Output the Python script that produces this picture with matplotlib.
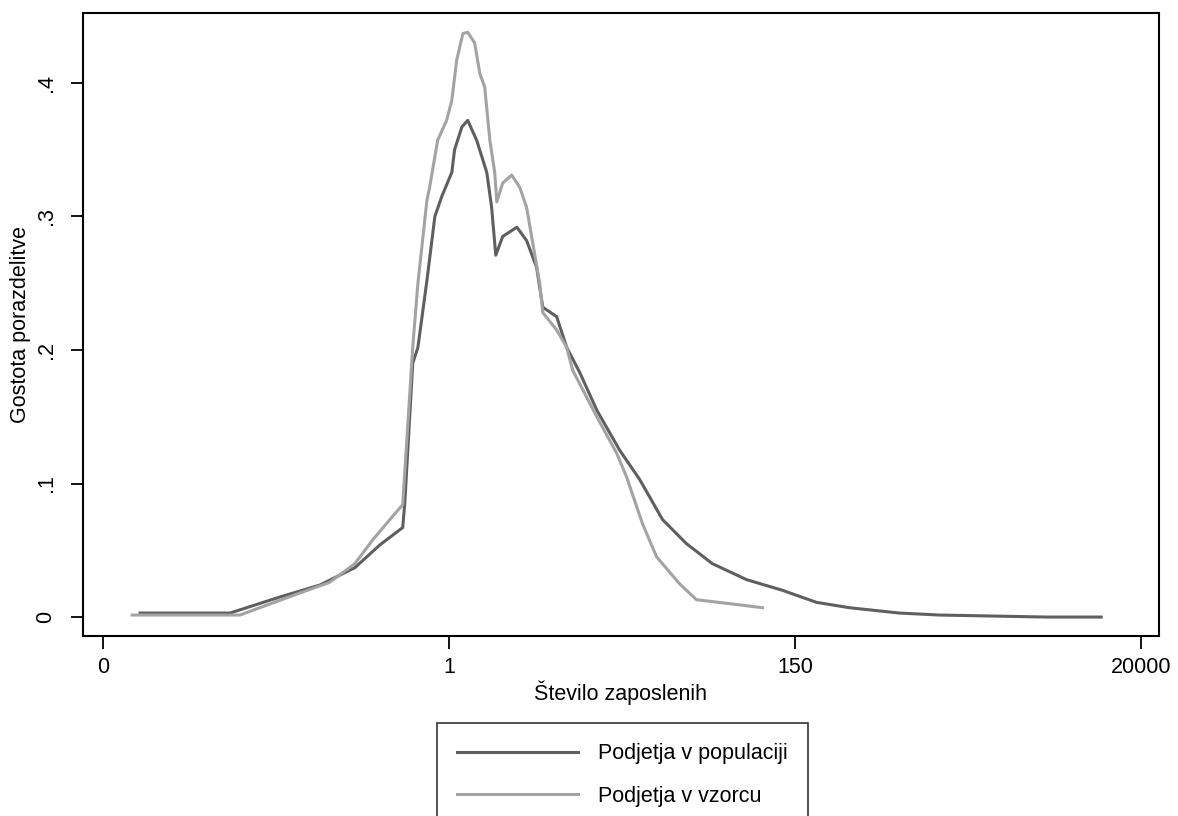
"""Kernel density of firm size: population vs. sample (Stata-style look)."""

import matplotlib
matplotlib.use("Agg")
import matplotlib.pyplot as plt

plt.rcParams["font.family"] = ["Liberation Sans", "DejaVu Sans"]

# x is on the transformed axis (ticks at 0..3 labelled 0, 1, 150, 20000)
X_TICKS = [0, 1, 2, 3]
X_TICK_LABELS = ["0", "1", "150", "20000"]
Y_TICKS = [0, 0.1, 0.2, 0.3, 0.4]
Y_TICK_LABELS = ["0", ".1", ".2", ".3", ".4"]

pop_x = [0.107, 0.367, 0.511, 0.627, 0.728, 0.800, 0.866, 0.872, 0.895, 0.910,
         0.936, 0.959, 0.979, 1.008, 1.016, 1.037, 1.054, 1.080, 1.109, 1.123,
         1.135, 1.155, 1.196, 1.224, 1.253, 1.271, 1.311, 1.340, 1.378, 1.427,
         1.493, 1.551, 1.617, 1.686, 1.761, 1.860, 1.964, 2.062, 2.157, 2.301,
         2.417, 2.726, 2.885]
pop_y = [0.003, 0.003, 0.015, 0.024, 0.037, 0.054, 0.067, 0.085, 0.190, 0.202,
         0.252, 0.300, 0.315, 0.333, 0.350, 0.367, 0.372, 0.357, 0.333, 0.307,
         0.271, 0.285, 0.292, 0.282, 0.262, 0.232, 0.225, 0.202, 0.183, 0.155,
         0.125, 0.103, 0.073, 0.055, 0.040, 0.028, 0.020, 0.011, 0.007, 0.003,
         0.0015, 0.0, 0.0]

smp_x = [0.084, 0.396, 0.453, 0.569, 0.655, 0.728, 0.780, 0.829, 0.852, 0.866,
         0.895, 0.910, 0.936, 0.944, 0.967, 0.993, 1.008, 1.022, 1.040, 1.054,
         1.074, 1.089, 1.103, 1.118, 1.132, 1.138, 1.155, 1.181, 1.204, 1.224,
         1.242, 1.262, 1.271, 1.311, 1.340, 1.357, 1.427, 1.484, 1.513, 1.559,
         1.600, 1.666, 1.715, 1.811, 1.906]
smp_y = [0.0015, 0.0015, 0.007, 0.018, 0.026, 0.040, 0.058, 0.073, 0.080, 0.084,
         0.202, 0.250, 0.312, 0.322, 0.357, 0.372, 0.387, 0.417, 0.437, 0.438,
         0.430, 0.407, 0.397, 0.357, 0.333, 0.311, 0.325, 0.331, 0.322, 0.307,
         0.280, 0.250, 0.228, 0.215, 0.202, 0.185, 0.150, 0.123, 0.105, 0.070,
         0.045, 0.025, 0.013, 0.010, 0.007]

COL_POP = "#5f5f5f"
COL_SMP = "#a3a3a3"
FS = 15.5

fig = plt.figure(figsize=(11.78, 8.16), dpi=100)
ax = fig.add_axes([83 / 1178, 1 - 636 / 816, (1159 - 83) / 1178, (636 - 13) / 816])

ax.plot(pop_x, pop_y, color=COL_POP, linewidth=2.2, label="Podjetja v populaciji")
ax.plot(smp_x, smp_y, color=COL_SMP, linewidth=2.2, label="Podjetja v vzorcu")

ax.set_xlim(-0.058, 3.052)
ax.set_ylim(-0.0142, 0.4524)
ax.set_xticks(X_TICKS)
ax.set_xticklabels(X_TICK_LABELS)
ax.set_yticks(Y_TICKS)
ax.set_yticklabels(Y_TICK_LABELS, rotation=90, va="center")
ax.tick_params(axis="both", direction="out", length=9, width=1.3, labelsize=FS, colors="black")
ax.tick_params(axis="x", pad=6)
ax.tick_params(axis="y", pad=10)
for spine in ax.spines.values():
    spine.set_linewidth(1.5)
    spine.set_color("black")

ax.set_xlabel("Število zaposlenih", fontsize=FS, labelpad=2)
ax.set_ylabel("Gostota porazdelitve", fontsize=FS, labelpad=3)

# legend sits under the axes and runs off the bottom edge, as in the original
leg = fig.legend(
    loc="upper center",
    bbox_to_anchor=(622.5 / 1178, 1 - 723 / 816),
    fontsize=FS,
    frameon=True,
    fancybox=False,
    edgecolor="black",
    handlelength=5.6,
    handletextpad=0.95,
    labelspacing=1.0,
    borderpad=0.95,
    borderaxespad=0,
)
leg.get_frame().set_linewidth(1.2)

fig.savefig("out.png", dpi=100)
